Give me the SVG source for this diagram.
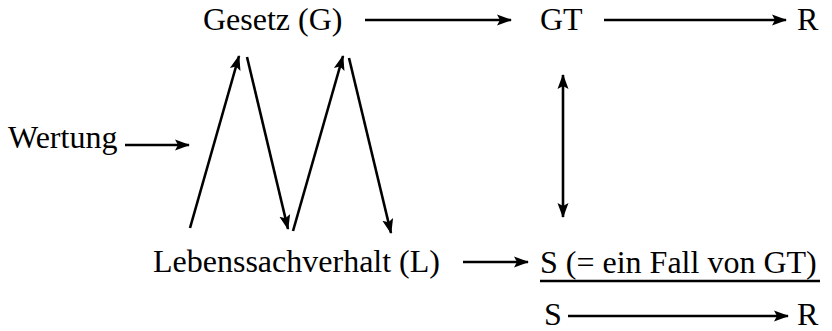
<svg xmlns="http://www.w3.org/2000/svg" width="832" height="331" viewBox="0 0 832 331">
<style>
text{font-family:"Liberation Serif","Times New Roman",serif;font-size:32px;fill:#000}
.c line{stroke:#000;stroke-width:2.6;fill:none}
</style>
<defs>
<marker id="ah" markerUnits="userSpaceOnUse" markerWidth="16" markerHeight="14" viewBox="0 0 16 14" refX="14" refY="7" orient="auto-start-reverse">
<path d="M0,1.5 L15,7 L0,12.5 L3,7 Z" fill="#000"/>
</marker>
</defs>
<rect width="832" height="331" fill="#fff"/>
<g id="gesetz"><text x="203" y="30">Gesetz (G)</text></g>
<g id="gt"><text x="540" y="30">GT</text></g>
<g id="r1"><text x="797" y="30">R</text></g>
<g id="wertung"><text x="8" y="148">Wertung</text></g>
<g id="lebens"><text x="153" y="272">Lebenssachverhalt (L)</text></g>
<g id="s1"><text x="540" y="273">S (= ein Fall von GT)</text><line x1="540" y1="281" x2="820" y2="281" stroke="#000" stroke-width="2.5"/></g>
<g id="s2"><text x="544" y="325">S</text></g>
<g id="r2"><text x="797" y="325">R</text></g>
<g class="c" id="connectors">
<line x1="365" y1="20" x2="511" y2="20" marker-end="url(#ah)"/>
<line x1="604" y1="20" x2="786" y2="20" marker-end="url(#ah)"/>
<line x1="125" y1="145" x2="189" y2="145" marker-end="url(#ah)"/>
<line x1="190" y1="228" x2="239" y2="56" marker-end="url(#ah)"/>
<line x1="247" y1="57" x2="288" y2="229" marker-end="url(#ah)"/>
<line x1="293" y1="231" x2="343" y2="56" marker-end="url(#ah)"/>
<line x1="349" y1="58" x2="391" y2="233" marker-end="url(#ah)"/>
<line x1="563" y1="75" x2="563" y2="217" marker-start="url(#ah)" marker-end="url(#ah)"/>
<line x1="463" y1="262" x2="528" y2="262" marker-end="url(#ah)"/>
<line x1="568" y1="316" x2="788" y2="316" marker-end="url(#ah)"/>
</g>
</svg>
